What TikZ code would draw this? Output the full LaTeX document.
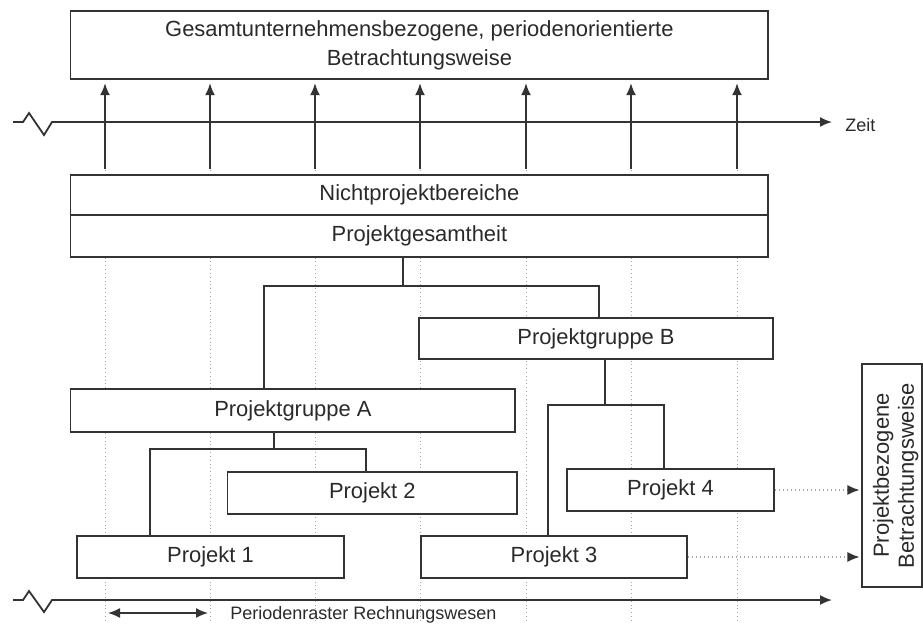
\documentclass[tikz,border=0pt]{standalone}
\usepackage{fontspec}
\setmainfont{Liberation Sans}
\usepackage{xcolor}
\usetikzlibrary{arrows.meta}

\definecolor{linie}{HTML}{333333}
\definecolor{schrift}{HTML}{2A2A2A}
\definecolor{raster}{HTML}{A8A8A8}

\tikzset{
	kasten/.style 2 args={draw=linie, fill=white, line width=0.3mm, minimum width=#1*0.25mm, minimum height=#2*0.25mm, inner sep=0pt, text=schrift, font=\fontsize{15.6}{18}\selectfont},
	ast/.style={draw=linie, line width=0.3mm},
	pfeil/.style={draw=linie, line width=0.4mm, -{Latex[length=3mm,width=2.5mm]}},
	achse/.style={draw=linie, line width=0.45mm, line join=miter, -{Latex[length=3mm,width=2.5mm]}},
	rasterlinie/.style={draw=raster, dotted, line width=0.25mm},
	punktpfeil/.style={draw=raster, dotted, line width=0.3mm, -{Latex[length=3mm,width=2.5mm,color=linie]}},
	klein/.style={text=schrift, inner sep=0pt, font=\fontsize{12.8}{15}\selectfont}
}

\begin{document}
\begin{tikzpicture}[x=0.25mm,y=-0.25mm]
	\useasboundingbox (0,0) rectangle (923,623);
	
	\foreach \x in {105,210,315,420,526,631,737}{
		\draw[rasterlinie] (\x,170) -- (\x,623);
	}
	
	% Kaesten
	\node[kasten={697.3}{68}, align=center, font=\fontsize{15.6}{20.6}\selectfont] (oben) at (419.4,45) {Gesamtunternehmensbezogene, periodenorientierte\\Betrachtungsweise};
	\node[kasten={697.3}{40}] (nicht) at (419.4,195) {Nichtprojektbereiche};
	\node[kasten={697.3}{42}] (gesamt) at (419.4,236) {Projektgesamtheit};
	\node[kasten={354}{41}] (grB) at (596,338.5) {Projektgruppe B};
	\node[kasten={444.3}{43}] (grA) at (292.9,410.5) {Projektgruppe A};
	\node[kasten={289.5}{42}] (p2) at (372.3,493) {Projekt 2};
	\node[kasten={207}{42}] (p4) at (670.5,490) {Projekt 4};
	\node[kasten={267}{42}] (p1) at (210.5,557) {Projekt 1};
	\node[kasten={266}{42}] (p3) at (554,557) {Projekt 3};
	\node[kasten={60}{223}] (rechts) at (892,475.5) {};
	\node[rotate=90, align=center, text=schrift, inner sep=0pt, font=\fontsize{15.6}{17.8}\selectfont] (rechtstext) at ([xshift=0.9mm]rechts.center) {Projektbezogene\\Betrachtungsweise};
	
	% Baum
	\draw[ast] (gesamt.south -| 403,0) -- (403,286);
	\draw[ast] (grA.north -| 264,0) -- (264,286) -| (grB.north -| 599,0);
	\draw[ast] (grA.south -| 274,0) -- (274,449);
	\draw[ast] (p1.north -| 150,0) -- (150,449) -| (p2.north -| 366,0);
	\draw[ast] (grB.south -| 605,0) -- (605,405);
	\draw[ast] (p3.north -| 548,0) -- (548,405) -| (p4.north -| 664,0);
	
	% Zeitachsen
	\node[klein, anchor=base west] (zeit) at (845,131.5) {Zeit};
	\draw[achse, shorten >=3.25mm] (13,122) -- (23,122) -- (29,113) -- (44,135) -- (52,122) -- (zeit.west |- 0,122);
	\foreach \x in {105,210,315,420,526,631,737}{
		\draw[pfeil, shorten <=1.25mm, shorten >=0.9mm] (nicht.north -| \x,0) -- (oben.south -| \x,0);
	}
	\coordinate (ende) at (832,600);
	\draw[achse] (13,600) -- (23,600) -- (29,591) -- (44,612) -- (52,600) -- (ende);
	\draw[draw=linie, line width=0.4mm, {Latex[length=3mm,width=2.5mm]}-{Latex[length=3mm,width=2.5mm]}] (108,613) -- (208,613);
	\node[klein, anchor=base west] (periode) at (230,619.5) {Periodenraster Rechnungswesen};
	
	\draw[punktpfeil, shorten >=0.5mm] (p4.east) -- (rechts.west |- p4.east);
	\draw[punktpfeil, shorten >=0.5mm] (p3.east) -- (rechts.west |- p3.east);
\end{tikzpicture}
\end{document}
